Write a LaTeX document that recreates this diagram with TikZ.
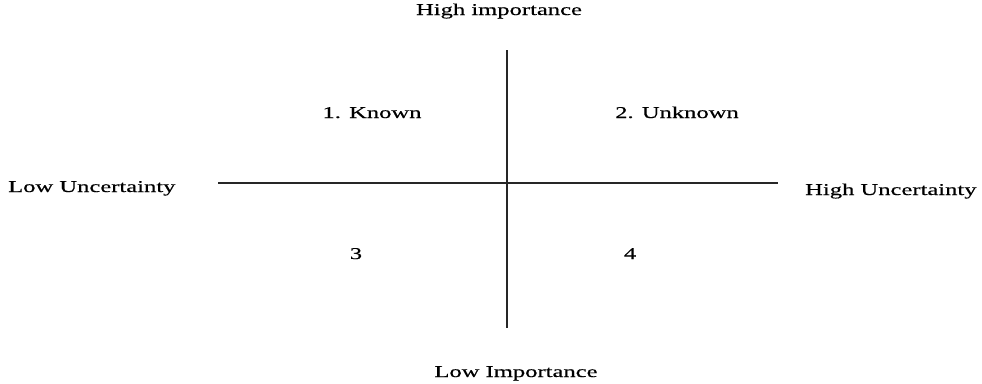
\documentclass[tikz,border=0pt]{standalone}
\usepackage{fontspec}
\setmainfont{Liberation Serif}[FakeStretch=1.49, FakeBold=0.4]
\usepackage{tikz}
\usetikzlibrary{positioning}

\begin{document}
\begin{tikzpicture}[
  x=1pt, y=-1pt,
  lbl/.style={inner sep=0pt, anchor=base, font=\fontsize{16.5}{20}\selectfont},
  axis/.style={line width=1.4pt, black!85}]
\useasboundingbox (0,0) rectangle (982,383);
% axes
\coordinate (top) at (507,50);
\coordinate (bottom) at (507,328);
\coordinate (left) at (218,183);
\coordinate (right) at (778,183);
\draw[axis] (top) -- (bottom);
\draw[axis] (left) -- (right);
% axis labels
\node[lbl] (highimp) at (499,15) {High importance};
\node[lbl] (lowimp) at (516,377) {Low Importance};
\node[lbl, anchor=base west] (lowunc) at (8,192) {Low Uncertainty};
\node[lbl, anchor=base west] (highunc) at (805,195) {High Uncertainty};
% quadrants
\node[lbl] (known) at (372,118) {1. Known};
\node[lbl] (unknown) at (677,118) {2. Unknown};
\node[lbl] (three) at (356,259) {3};
\node[lbl] (four) at (630,259) {4};
\end{tikzpicture}
\end{document}
